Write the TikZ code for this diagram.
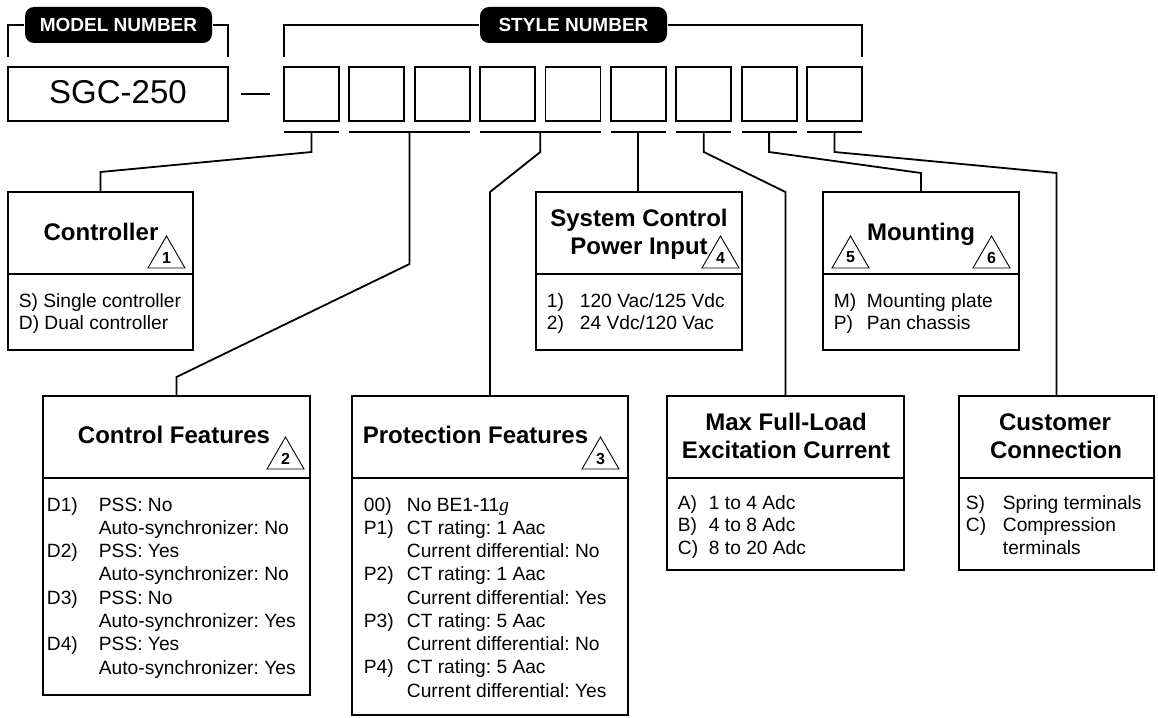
\documentclass[tikz,border=0pt]{standalone}
\usepackage{fontspec}
\setmainfont{Liberation Sans}
\newfontfamily\serifit{Liberation Serif}
\usetikzlibrary{calc}
\frenchspacing
\newcommand\warntri[4]{%
  \draw[line width=0.9pt, line join=miter] (#2,#3) -- ++(18.5,-32) -- ++(18.5,32) -- cycle;
  \node[trinum] (#1) at (#2+18.5,#3-10.5) {#4};}
\begin{document}
\begin{tikzpicture}[x=1pt,y=-1pt,line width=1.8pt,
  box/.style={draw, line width=1.8pt, outer sep=0pt, inner sep=0pt, anchor=north west},
  sbox/.style={box, minimum width=55pt, minimum height=54pt},
  pill/.style={fill=black, text=white, rounded corners=9pt, inner sep=0pt,
     minimum width=187pt, minimum height=36pt, font=\fontsize{19}{22}\selectfont\bfseries},
  title/.style={font=\fontsize{24}{28}\selectfont\bfseries, inner sep=0pt, anchor=base},
  listtext/.style={inner sep=0pt, anchor=base west},
  trinum/.style={font=\fontsize{16}{17}\selectfont\bfseries, inner sep=0pt},
  conn/.style={draw, line width=1.8pt, line join=miter}]
\useasboundingbox (0,0) rectangle (1158,717);

% ---- header
\node[box, minimum width=220pt, minimum height=54pt] (model) at (8,67) {};
\node[font=\fontsize{33}{36}\selectfont, inner sep=0pt, anchor=base] (sgc) at (118,103) {SGC-250};
\foreach \i in {1,...,9}
  \node[sbox] (s\i) at ({284+(\i-1)*65.375},67) {};
\node[pill] (mnp) at (118.5,25) {MODEL NUMBER};
\node[pill] (snp) at (573.5,25) {STYLE NUMBER};
\draw ([yshift=10pt]model.north west) |- (mnp.west);
\draw (mnp.east) -| ([yshift=10pt]model.north east);
\draw ([yshift=10pt]s1.north west) |- (snp.west);
\draw (snp.east) -| ([yshift=10pt]s9.north east);
\draw[line width=1.5pt] ([xshift=13pt]model.east) -- ([xshift=-14pt]s1.west);

% ---- underlines
\draw ([yshift=-11pt]s1.south west) -- ([yshift=-11pt]s1.south east);
\draw ([yshift=-11pt]s2.south west) -- ([yshift=-11pt]s3.south east);
\draw ([yshift=-11pt]s4.south west) -- ([yshift=-11pt]s5.south east);
\draw ([yshift=-11pt]s6.south west) -- ([yshift=-11pt]s6.south east);
\draw ([yshift=-11pt]s7.south west) -- ([yshift=-11pt]s7.south east);
\draw ([yshift=-11pt]s8.south west) -- ([yshift=-11pt]s8.south east);
\draw ([yshift=-11pt]s9.south west) -- ([yshift=-11pt]s9.south east);
\coordinate (u1) at ([yshift=-11pt]s1.south);
\coordinate (u23) at ($([yshift=-11pt]s2.south west)!0.5!([yshift=-11pt]s3.south east)$);
\coordinate (u45) at ($([yshift=-11pt]s4.south west)!0.5!([yshift=-11pt]s5.south east)$);
\coordinate (u6) at ([yshift=-11pt]s6.south);
\coordinate (u7) at ([yshift=-11pt]s7.south);
\coordinate (u8) at ([yshift=-11pt]s8.south);
\coordinate (u9) at ([yshift=-11pt]s9.south);

% ---- option boxes
\node[box, minimum width=185pt, minimum height=158pt] (ctrl) at (8,192) {};
\node[box, minimum width=206pt, minimum height=158pt] (sys) at (536,192) {};
\node[box, minimum width=196pt, minimum height=158pt] (mount) at (823,192) {};
\node[box, minimum width=267pt, minimum height=299pt] (cf) at (43,396) {};
\node[box, minimum width=276pt, minimum height=319pt] (pf) at (352,396) {};
\node[box, minimum width=237pt, minimum height=174pt] (maxc) at (667,396) {};
\node[box, minimum width=195pt, minimum height=174pt] (cust) at (959,396) {};
\foreach \b in {ctrl,sys,mount}
  \draw (\b.west |- 0,274) -- (\b.east |- 0,274);
\foreach \b in {cf,pf,maxc,cust}
  \draw (\b.west |- 0,478) -- (\b.east |- 0,478);

% ---- connectors
\draw[conn] (u1) -- ++(0,20) -- ([yshift=20pt]ctrl.north) -- (ctrl.north);
\draw[conn] (u23) -- ++(0,132) -- ([yshift=19pt]cf.north) -- (cf.north);
\draw[conn] (u45) -- ++(0,20) -- ([yshift=204pt]pf.north) -- (pf.north);
\draw[conn] (u6) -- (u6 |- sys.north);
\draw[conn] (u7) -- ++(0,20) -- ([yshift=204pt]maxc.north) -- (maxc.north);
\draw[conn] (u8) -- ++(0,20) -- ([yshift=19pt]mount.north) -- (mount.north);
\draw[conn] (u9) -- ++(0,20) -- ([yshift=223pt]cust.north) -- (cust.north);

% ---- titles
\node[title] (tctrl) at (101,240) {Controller};
\node[title] (tmount) at (921,240) {Mounting};
\node[title] (tsys1) at (639,226) {System Control};
\node[title] (tsys2) at (639,254) {Power Input};
\node[title] (tcf) at (174,443) {Control Features};
\node[title] (tpf) at (475.5,443) {Protection Features};
\node[title] (tmax1) at (786,430) {Max Full-Load};
\node[title] (tmax2) at (786,458) {Excitation Current};
\node[title] (tcust1) at (1055,430) {Customer};
\node[title] (tcust2) at (1056,458) {Connection};

% ---- triangles
\warntri{n1}{148}{268}{1}
\warntri{n2}{267}{469}{2}
\warntri{n3}{582}{469}{3}
\warntri{n4}{702}{268}{4}
\warntri{n5}{832}{268}{5}
\warntri{n6}{973}{268}{6}

% ---- option lists
\node[listtext, font=\fontsize{19.2}{22.3}\selectfont] (lctrl) at (18,307)
  {\begin{tabular}[t]{@{}l@{}}S) Single controller\\ D) Dual controller\end{tabular}};
\node[listtext, font=\fontsize{19.2}{22.3}\selectfont] (lsys) at (546,307)
  {\begin{tabular}[t]{@{}p{33pt}@{}l@{}}1) & 120 Vac/125 Vdc\\ 2) & 24 Vdc/120 Vac\end{tabular}};
\node[listtext, font=\fontsize{19.2}{22.3}\selectfont] (lmount) at (833,307)
  {\begin{tabular}[t]{@{}p{33pt}@{}l@{}}M) & Mounting plate\\ P) & Pan chassis\end{tabular}};
\node[listtext, font=\fontsize{19.2}{23.3}\selectfont] (lcf) at (46,511)
  {\begin{tabular}[t]{@{}p{52pt}@{}l@{}}
   D1) & PSS: No\\ & Auto-synchronizer: No\\
   D2) & PSS: Yes\\ & Auto-synchronizer: No\\
   D3) & PSS: No\\ & Auto-synchronizer: Yes\\
   D4) & PSS: Yes\\ & Auto-synchronizer: Yes\end{tabular}};
\node[listtext, font=\fontsize{19.2}{23.25}\selectfont] (lpf) at (363,511)
  {\begin{tabular}[t]{@{}p{43pt}@{}l@{}}
   00) & No BE1-11{\serifit\itshape g}\\
   P1) & CT rating: 1 Aac\\ & Current differential: No\\
   P2) & CT rating: 1 Aac\\ & Current differential: Yes\\
   P3) & CT rating: 5 Aac\\ & Current differential: No\\
   P4) & CT rating: 5 Aac\\ & Current differential: Yes\end{tabular}};
\node[listtext, font=\fontsize{19.2}{22.5}\selectfont] (lmax) at (677,509)
  {\begin{tabular}[t]{@{}p{31pt}@{}l@{}}A) & 1 to 4 Adc\\ B) & 4 to 8 Adc\\ C) & 8 to 20 Adc\end{tabular}};
\node[listtext, font=\fontsize{19.2}{22.5}\selectfont] (lcust) at (965,509)
  {\begin{tabular}[t]{@{}p{37pt}@{}l@{}}S) & Spring terminals\\ C) & Compression\\ & terminals\end{tabular}};
\end{tikzpicture}
\end{document}
